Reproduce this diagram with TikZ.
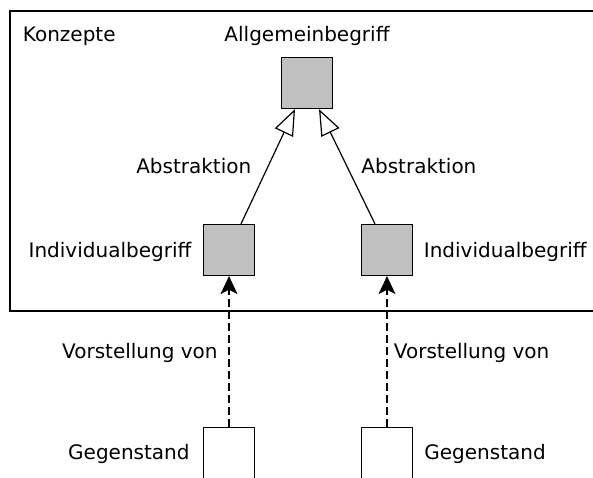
\documentclass[tikz,border=0pt]{standalone}
\usepackage{fontspec}
\setmainfont{DejaVu Sans}
\usetikzlibrary{arrows.meta}
\definecolor{conceptgray}{RGB}{192,192,192}

\begin{document}
\begin{tikzpicture}[x=0.5pt,y=-0.5pt,font=\fontsize{10}{12}\selectfont]
  \useasboundingbox[clip] (0,0) rectangle (593,477);

  \tikzstyle{Box}=[draw,line width=0.6pt,minimum size=25.5pt,inner sep=0pt]
  \tikzstyle{Concept}=[Box,fill=conceptgray]
  \tikzstyle{Thing}=[Box,fill=white]
  \tikzstyle{Label}=[inner sep=0pt]
  \tikzstyle{AbstrEdge}=[line width=0.6pt,-{Triangle[open,length=13pt,width=10pt]}]
  %\tikzstyle{AbstrEdge}=[->]
  \tikzstyle{ReprEdge}=[line width=0.6pt,dash pattern=on 4pt off 2pt,-{Stealth[length=9pt,width=8.5pt,inset=2.2pt]}]

  % Konzepte frame
  \draw[line width=0.7pt] (10,11) rectangle (620,311);
  \node (konz) [Label,anchor=base west] at (22.5,41.7) {Konzepte};

  \node (allg) [Concept] at (307,83) {};
  \node (indL) [Concept] at (229,250) {};
  \node (indR) [Concept] at (387,250) {};
  \node (gegL) [Thing] at (229,453) {};
  \node (gegR) [Thing] at (387,453) {};

  \draw[AbstrEdge] ([xshift=6pt]indL.north) -- ([xshift=-6pt]allg.south);
  \draw[AbstrEdge] ([xshift=-6pt]indR.north) -- ([xshift=6pt]allg.south);
  \draw[ReprEdge] (gegL.north) -- (indL.south);
  \draw[ReprEdge] (gegR.north) -- (indR.south);

  \node (labAllg) [Label,anchor=base] at (307,41.7) {Allgemeinbegriff};
  \node (labAbsL) [Label,anchor=base east] at (251.7,173.3) {Abstraktion};
  \node (labAbsR) [Label,anchor=base west] at (361,173.3) {Abstraktion};
  \node (labIndL) [Label,anchor=base east] at (191.7,257.3) {Individualbegriff};
  \node (labIndR) [Label,anchor=base west] at (423.5,257.3) {Individualbegriff};
  \node (labVorL) [Label,anchor=base east] at (218,358.3) {Vorstellung von};
  \node (labVorR) [Label,anchor=base west] at (393.5,358.3) {Vorstellung von};
  \node (labGegL) [Label,anchor=base east] at (190,459.3) {Gegenstand};
  \node (labGegR) [Label,anchor=base west] at (424,459.3) {Gegenstand};

\end{tikzpicture}
\end{document}
